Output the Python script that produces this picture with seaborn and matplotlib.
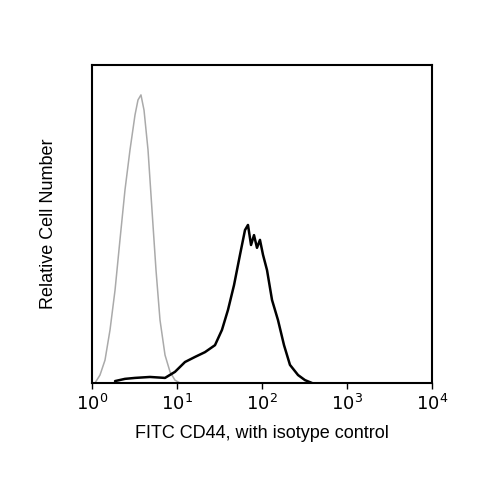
import numpy as np
import pandas as pd
import seaborn as sns
import matplotlib
matplotlib.use("Agg")
import matplotlib.pyplot as plt

# isotype control (gray), x in log10 decades
iso_log = [0.035,0.094,0.153,0.212,0.271,0.329,0.388,0.447,0.506,0.541,0.576,0.612,0.659,0.706,0.753,0.800,0.859,0.918,0.976,1.035]
iso_cnt = [0,0.025,0.072,0.167,0.292,0.450,0.607,0.733,0.843,0.890,0.906,0.858,0.733,0.543,0.355,0.198,0.088,0.035,0.009,0]
# CD44 stained (black)
cd_log = [0.271,0.388,0.506,0.682,0.859,0.976,1.094,1.212,1.329,1.447,1.529,1.600,1.671,1.741,1.8,1.835,1.871,1.906,1.941,1.976,2.012,2.059,2.118,2.188,2.259,2.329,2.424,2.506,2.588]
cd_cnt = [0.006,0.013,0.016,0.019,0.016,0.035,0.066,0.082,0.097,0.119,0.167,0.230,0.308,0.403,0.481,0.497,0.434,0.465,0.425,0.450,0.403,0.355,0.261,0.198,0.119,0.057,0.025,0.009,0]
tick_labels = ["$10^0$","$10^1$","$10^2$","$10^3$","$10^4$"]

sns.set_style("white")
plt.rcParams['font.family'] = ['Liberation Sans', 'DejaVu Sans']
fig = plt.figure(figsize=(5,5), dpi=100)
ax = fig.add_axes([0.184, 0.234, 0.68, 0.636])
iso = pd.DataFrame({"x": 10**np.array(iso_log), "y": iso_cnt})
cd = pd.DataFrame({"x": 10**np.array(cd_log), "y": cd_cnt})
sns.lineplot(data=iso, x="x", y="y", ax=ax, color="#aaaaaa", lw=1.1)
sns.lineplot(data=cd, x="x", y="y", ax=ax, color="black", lw=1.8)
ax.set_xscale("log")
ax.set_xlim(1, 1e4)
ax.set_ylim(0, 1)
ax.set_xticks([1,10,100,1000,10000])
ax.set_xticklabels(tick_labels, fontsize=13, color="black")
ax.set_yticks([])
ax.minorticks_off()
ax.tick_params(axis='x', direction='out', length=4, width=1, color='black', bottom=True)
for s in ax.spines.values():
    s.set_color("black"); s.set_linewidth(1.5)
ax.set_xlabel("FITC CD44, with isotype control", fontsize=13, labelpad=8, color="black")
ax.set_ylabel("Relative Cell Number", fontsize=13, labelpad=25, color="black")
fig.savefig("out.png", dpi=100)
